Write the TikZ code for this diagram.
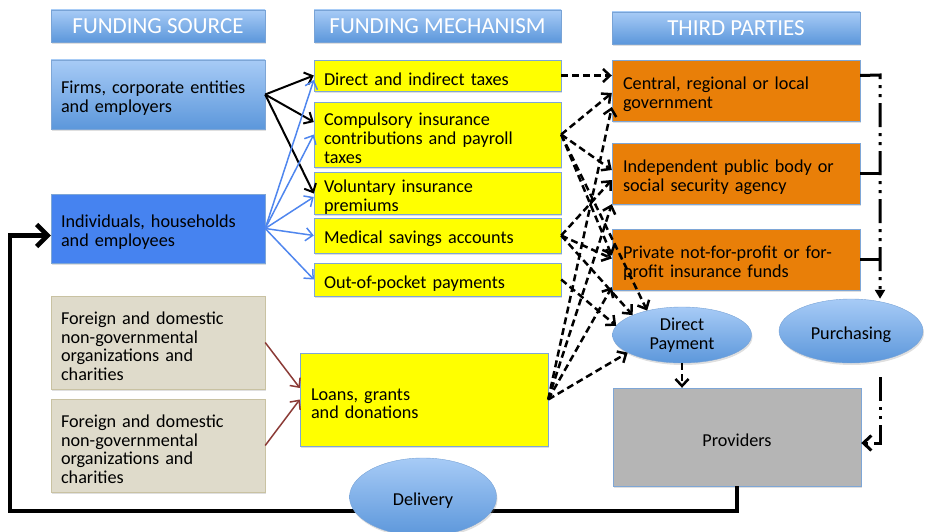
\documentclass[tikz,border=0pt]{standalone}
\usepackage{fontspec}
\setmainfont{Carlito}
\usetikzlibrary{arrows.meta, shapes.geometric, shadows}
\definecolor{hdrtop}{HTML}{A7CBF6}
\definecolor{hdrbot}{HTML}{5C97DB}
\definecolor{hdrline}{HTML}{78A3D6}
\definecolor{indivblue}{HTML}{4683F0}
\definecolor{ngofill}{HTML}{DFDBCB}
\definecolor{ngoline}{HTML}{C9C2A2}
\definecolor{mechyellow}{HTML}{FFFF00}
\definecolor{boxline}{HTML}{7EA6D6}
\definecolor{tporange}{HTML}{E97F08}
\definecolor{provgray}{HTML}{B5B5B5}
\definecolor{arrowblue}{HTML}{4F86EE}
\definecolor{arrowbrown}{HTML}{8B3A36}

\begin{document}
\begin{tikzpicture}[x=1pt, y=-1pt,
    every node/.style={font=\fontsize{18.2}{18.8}\selectfont, text=black},
    shade/.style={drop shadow={opacity=0.25, shadow xshift=1pt, shadow yshift=-2pt}},
    lowered/.style={execute at begin node={\rule{0pt}{20pt}}},
    heading/.style={rectangle, draw=hdrline, top color=hdrtop, bottom color=hdrbot, text=white,
        font=\fontsize{23}{27}\selectfont, minimum height=32pt, inner sep=0pt, shade},
    srcbox/.style={rectangle, draw=boxline, text width=194pt, inner xsep=10pt, inner ysep=0pt, align=left, shade, lowered},
    mechbox/.style={rectangle, draw=boxline, fill=mechyellow, text width=227pt, inner xsep=10pt, inner ysep=0pt, align=left, shade, lowered},
    partybox/.style={rectangle, draw=boxline, fill=tporange, text width=226pt, inner xsep=11pt, inner ysep=0pt, align=left, shade, lowered},
    bubble/.style={ellipse, draw=hdrline, top color=hdrtop, bottom color=hdrbot, inner sep=0pt, align=center, shade, lowered},
    feed/.style={-{Straight Barb[length=7pt,width=13pt]}, line width=2pt},
    flow/.style={-{Straight Barb[length=7pt,width=13pt]}, line width=2.5pt, dash pattern=on 7pt off 4pt},
    rail/.style={line width=3pt, dash pattern=on 24pt off 6pt on 3pt off 6pt on 3pt off 6pt}]
        \useasboundingbox (0,0) rectangle (925,532);

        % Headings
        \node[heading, minimum width=214pt] (srchead) at (158,26) {FUNDING SOURCE};
        \node[heading, minimum width=247pt] (mechhead) at (437.5,26) {FUNDING MECHANISM};
        \node[heading, minimum width=248pt] (partyhead) at (736,28) {THIRD PARTIES};

        % Sources
        \node[srcbox, top color=hdrtop, bottom color=hdrbot, minimum height=69pt] (firms) at (158,94.5) {Firms, corporate entities\\and employers};
        \node[srcbox, fill=indivblue, minimum height=69pt] (indiv) at (158,228.5) {Individuals, households\\and employees};
        \node[srcbox, draw=ngoline, fill=ngofill, minimum height=93pt] (ngo1) at (158,342.5) {Foreign and domestic\\non-governmental\\organizations and\\charities};
        \node[srcbox, draw=ngoline, fill=ngofill, minimum height=93pt] (ngo2) at (158,445.5) {Foreign and domestic\\non-governmental\\organizations and\\charities};

        % Mechanisms
        \node[mechbox, minimum height=31pt] (direct) at (437.5,75.5) {Direct and indirect taxes};
        \node[mechbox, minimum height=65pt] (comp) at (437.5,134.5) {Compulsory insurance\\contributions and payroll\\taxes};
        \node[mechbox, minimum height=39pt] (volun) at (437.5,193.5) {Voluntary insurance\\premiums};
        \node[mechbox, minimum height=35pt] (medical) at (437.5,235.5) {Medical savings accounts};
        \node[mechbox, minimum height=33pt] (oop) at (437.5,279.5) {Out-of-pocket payments};
        \node[mechbox, text width=226pt, inner xsep=11pt, minimum height=93pt] (loans) at (424,399.5) {Loans, grants\\and donations};

        % Third parties
        \node[partybox, minimum height=61pt] (central) at (736,90.5) {Central, regional or local\\government};
        \node[partybox, minimum height=61pt] (indep) at (736,173.5) {Independent public body or\\social security agency};
        \node[partybox, minimum height=61pt] (private) at (736,259.5) {Private not-for-profit or for-\\profit insurance funds};
        \node[bubble, minimum width=139pt, minimum height=56pt] (dp) at (682,335) {Direct\\Payment};
        \node[bubble, minimum width=144pt, minimum height=64pt] (purch) at (851,331) {Purchasing};
        \node[rectangle, draw=boxline, fill=provgray, minimum width=248pt, minimum height=98pt, shade, lowered] (prov) at (737,437) {Providers};

        % Sources to mechanisms
        \draw[feed] (firms.east) -- (direct.west);
        \draw[feed] (firms.east) -- ([yshift=12.5pt]comp.west);
        \draw[feed] (firms.east) -- (volun.west);
        \draw[feed, arrowblue, line width=1.5pt] (indiv.east) -- ([yshift=-4.5pt]direct.west);
        \draw[feed, arrowblue, line width=1.5pt] (indiv.east) -- (comp.west);
        \draw[feed, arrowblue, line width=1.5pt] (indiv.east) -- ([yshift=-3.5pt]volun.west);
        \draw[feed, arrowblue, line width=1.5pt] (indiv.east) -- (medical.west);
        \draw[feed, arrowblue, line width=1.5pt] (indiv.east) -- (oop.west);
        \draw[feed, arrowbrown, line width=1.5pt] (ngo1.east) -- ([yshift=11.5pt]loans.west);
        \draw[feed, arrowbrown, line width=1.5pt] (ngo2.east) -- (loans.west);

        % Mechanisms to third parties
        \draw[flow] (direct.east) -- (direct.east -| central.west);
        \draw[flow] (comp.east) -- ([yshift=-2.5pt]central.west);
        \draw[flow] (comp.east) -- ([yshift=3.5pt]indep.west);
        \draw[flow] (comp.east) -- ([yshift=4pt]private.west);
        \draw[flow] (comp.east) -- (dp.145);
        \draw[flow] (medical.east) -- ([yshift=-6.5pt]indep.west);
        \draw[flow] (medical.east) -- ([yshift=1pt]private.west);
        \draw[flow] (medical.east) -- (dp.158);
        \draw[flow] (oop.east) -- (dp.172);
        \draw[flow] (loans.east) -- ([yshift=-16.5pt]central.west);
        \draw[flow] (loans.east) -- (indep.south west);
        \draw[flow] (loans.east) -- ([yshift=3pt]private.south west);
        \draw[flow] (loans.east) -- (dp.198);
        \draw[flow] (dp.south) -- (dp.south |- prov.north);

        % Purchasing rail
        \coordinate (rail) at (880,75);
        \coordinate (railbot) at (880,377);
        \draw[rail, -{Triangle[length=9pt,width=10pt]}] ([yshift=15pt]central.east) -- (rail) -- (rail |- purch.north);
        \draw[line width=3pt] (indep.east) -- (indep.east -| rail);
        \draw[line width=3pt] (private.east) -- (private.east -| rail);
        \draw[rail, -{Straight Barb[length=8pt,width=15pt]}] (railbot) |- ([yshift=-6pt]prov.east);

        % Delivery loop
        \coordinate (loopcorner) at (10,511);
        \draw[line width=4.5pt, -{Straight Barb[length=11pt,width=22pt]}] (prov.south) |- (loopcorner) |- ([yshift=-7pt]indiv.west);
        \node[bubble, minimum width=147pt, minimum height=78pt] (delivery) at (423,497) {Delivery};

    \end{tikzpicture}
\end{document}
